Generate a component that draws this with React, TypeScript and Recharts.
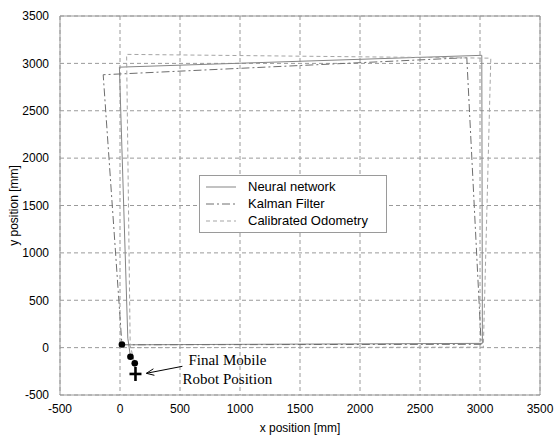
import {
  ComposedChart, Line, Scatter, XAxis, YAxis,
  CartesianGrid, Legend, ReferenceLine,
} from 'recharts';

const xTicks = [-500, 0, 500, 1000, 1500, 2000, 2500, 3000, 3500];
const yTicks = [-500, 0, 500, 1000, 1500, 2000, 2500, 3000, 3500];

const neuralNetwork = [
  { x: 75, y: 30 },
  { x: 3020, y: 45 },
  { x: 3015, y: 3085 },
  { x: -5, y: 2960 },
  { x: 65, y: 100 },
  { x: 87, y: -96 },
];

const kalmanFilter = [
  { x: 15, y: 30 },
  { x: 3010, y: 35 },
  { x: 2890, y: 3060 },
  { x: -140, y: 2880 },
  { x: 16, y: 33 },
];

const calibratedOdometry = [
  { x: 90, y: 0 },
  { x: 3028, y: 5 },
  { x: 3090, y: 3055 },
  { x: 55, y: 3095 },
  { x: 85, y: 20 },
  { x: 123, y: -166 },
];

const finalEstimates = [
  { x: 16, y: 33 },
  { x: 87, y: -96 },
  { x: 123, y: -166 },
];
const finalPosition = [{ x: 129, y: -278 }];
const arrowTip = [{ x: 220, y: -271 }];

const series = [
  { name: 'Neural network', color: '#858585', dash: undefined },
  { name: 'Kalman Filter', color: '#6e6e6e', dash: '8 3 2 3' },
  { name: 'Calibrated Odometry', color: '#a5a5a5', dash: '4 3' },
];

const sans = '"Liberation Sans", Arial, sans-serif';
const serif = '"Liberation Serif", "Times New Roman", serif';
const tick = { fill: '#000', fontSize: 12, fontFamily: sans };

function Dot(p: any) {
  return <circle cx={p.cx} cy={p.cy} r={3.3} fill="#000" />;
}

function Plus(p: any) {
  return (
    <g stroke="#000" strokeWidth={2.6}>
      <line x1={p.cx - 6} y1={p.cy} x2={p.cx + 6} y2={p.cy} />
      <line x1={p.cx} y1={p.cy - 7} x2={p.cx} y2={p.cy + 7} />
    </g>
  );
}

function Annotation(p: any) {
  const { cx, cy } = p;
  return (
    <g>
      <line x1={cx} y1={cy} x2={cx + 36} y2={cy - 7} stroke="#000" strokeWidth={1} />
      <polyline
        points={`${cx + 7},${cy - 4.5} ${cx},${cy} ${cx + 8},${cy + 2}`}
        fill="none" stroke="#000" strokeWidth={1}
      />
      <text x={cx + 81} y={cy - 8} textAnchor="middle" fontFamily={serif} fontSize={15} fill="#000">
        Final Mobile
      </text>
      <text x={cx + 81} y={cy + 11} textAnchor="middle" fontFamily={serif} fontSize={15} fill="#000">
        Robot Position
      </text>
    </g>
  );
}

function LegendBox() {
  return (
    <div style={{
      border: '1px solid #9a9a9a', background: '#fff', width: 188, padding: '2px 0 3px',
      fontFamily: sans, fontSize: 13, color: '#000', boxSizing: 'border-box',
    }}>
      {series.map(s => (
        <div key={s.name} style={{ display: 'flex', alignItems: 'center', height: 17 }}>
          <svg width={42} height={10} style={{ marginLeft: 6 }}>
            <line x1={0} y1={5} x2={30} y2={5} stroke={s.color} strokeDasharray={s.dash} />
          </svg>
          <span>{s.name}</span>
        </div>
      ))}
    </div>
  );
}

export default function App() {
  return (
    <div style={{ position: 'absolute', left: 0, top: 0, background: '#fff' }}>
      <ComposedChart
        width={556} height={437}
        margin={{ top: 16, right: 16, bottom: 0, left: 0 }}
      >
        <CartesianGrid stroke="#9a9a9a" strokeDasharray="4 3" />
        <XAxis
          type="number" dataKey="x" domain={[-500, 3500]} ticks={xTicks}
          allowDataOverflow height={42} tickLine={false} tickMargin={3}
          axisLine={{ stroke: '#9a9a9a' }} tick={tick}
          label={{ value: 'x position [mm]', position: 'insideBottom', offset: 5, style: tick }}
        />
        <YAxis
          type="number" dataKey="y" domain={[-500, 3500]} ticks={yTicks}
          allowDataOverflow width={60} tickLine={false} tickMargin={5}
          axisLine={{ stroke: '#9a9a9a' }} tick={tick}
          label={{
            value: 'y position [mm]', angle: -90, position: 'insideLeft', offset: 14,
            style: { ...tick, textAnchor: 'middle' },
          }}
        />
        <ReferenceLine x={3500} stroke="#9a9a9a" />
        <ReferenceLine y={3500} stroke="#9a9a9a" />
        <Line
          data={neuralNetwork} dataKey="y" name={series[0].name}
          stroke={series[0].color} strokeWidth={1} dot={false} isAnimationActive={false}
        />
        <Line
          data={kalmanFilter} dataKey="y" name={series[1].name}
          stroke={series[1].color} strokeWidth={1} strokeDasharray={series[1].dash}
          dot={false} isAnimationActive={false}
        />
        <Line
          data={calibratedOdometry} dataKey="y" name={series[2].name}
          stroke={series[2].color} strokeWidth={1} strokeDasharray={series[2].dash}
          dot={false} isAnimationActive={false}
        />
        <Scatter data={finalEstimates} dataKey="y" shape={Dot} isAnimationActive={false} />
        <Scatter data={finalPosition} dataKey="y" shape={Plus} isAnimationActive={false} />
        <Scatter data={arrowTip} dataKey="y" shape={Annotation} isAnimationActive={false} />
        <Legend
          layout="horizontal" verticalAlign="middle" align="center"
          content={() => <LegendBox />}
          wrapperStyle={{ left: 199, top: 175, width: 190 }}
        />
      </ComposedChart>
    </div>
  );
}
